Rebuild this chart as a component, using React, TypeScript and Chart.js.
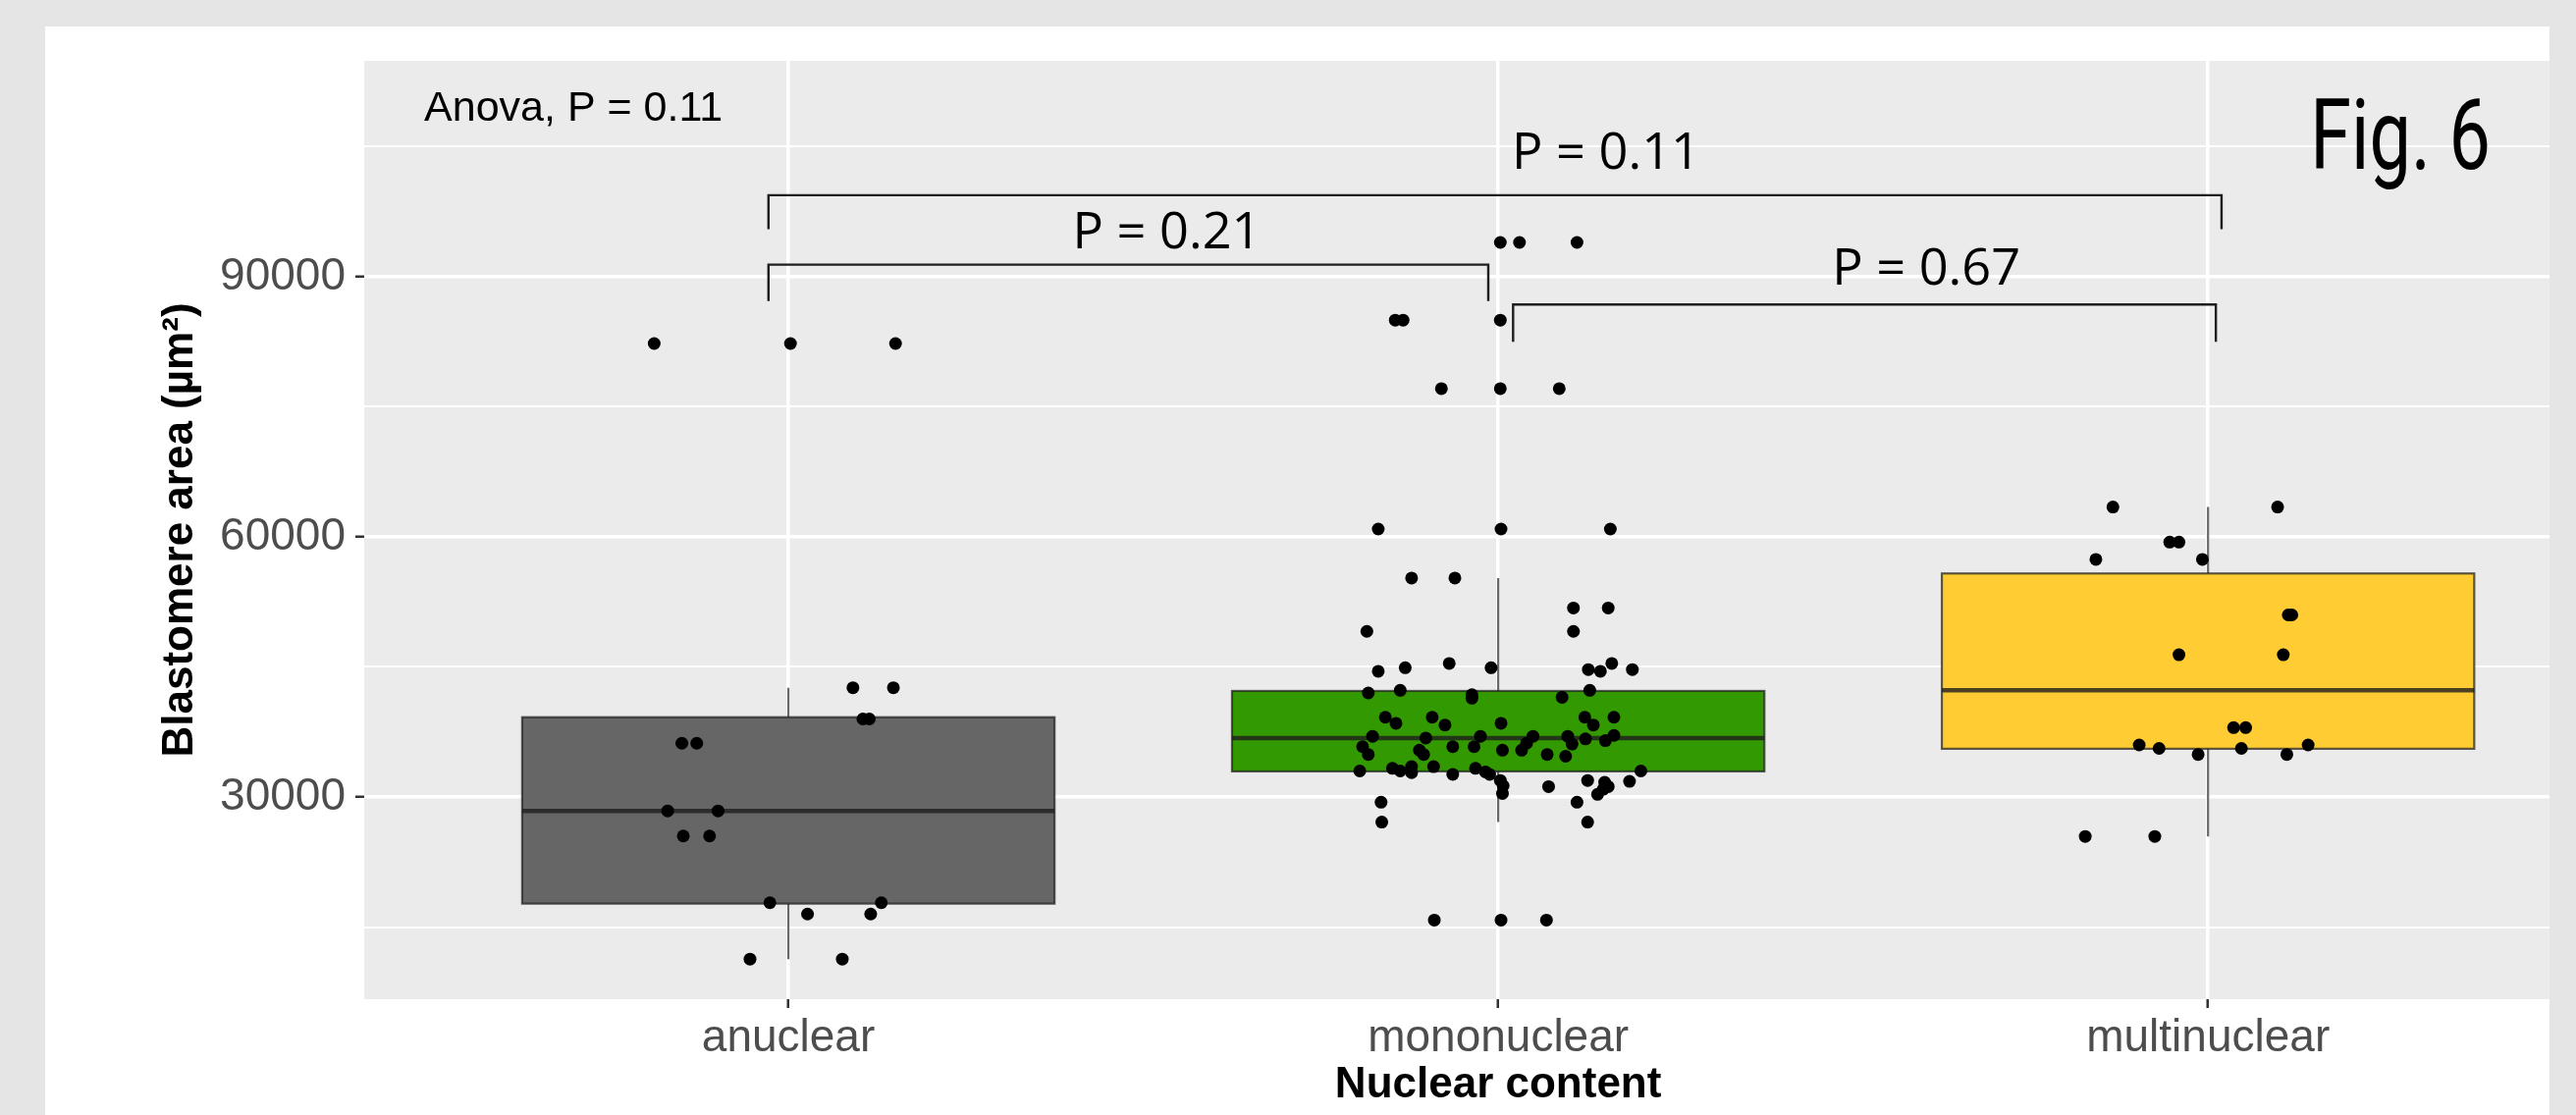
import React, { useEffect, useRef } from 'react';
import { Chart, registerables } from 'chart.js';

Chart.register(...registerables);

const W = 2624;
const H = 1136;

// ---------- data ----------
const categories = ['anuclear', 'mononuclear', 'multinuclear'];
const boxFills = ['#666666', '#339900', '#FFCC33'];

const whiskerLow = [11300, 27100, 25450];
const quartile1 = [17700, 32950, 35560];
const medians = [28400, 36800, 42300];
const quartile3 = [39200, 42230, 55780];
const whiskerHigh = [42600, 55250, 63440];

const anuclearValues = [82300, 82300, 82300, 42600, 42600, 39000, 39000, 36200, 36200, 28400, 28400, 25500, 25500, 17800, 17800, 16500, 16500, 11300, 11300];
const anuclearJitter = [-0.189, 0.003, 0.151, 0.091, 0.148, 0.105, 0.114, -0.15, -0.129, -0.17, -0.099, -0.148, -0.111, -0.026, 0.131, 0.027, 0.116, -0.054, 0.076];

const mononuclearValues = [
  93960, 93960, 93960, 85000, 85000, 85000, 77100, 77100, 77100, 60900,
  60900, 60900, 55250, 55250, 51800, 51800, 49100, 49100, 45400, 45400,
  44900, 44900, 44700, 44500, 44700, 44500, 42000, 42300, 41800, 42300,
  41500, 41400, 39200, 39200, 39200, 39200, 38500, 38500, 38300, 38300,
  37000, 36800, 37000, 37000, 37000, 36700, 37100, 36500, 36200, 36100,
  35800, 35800, 35800, 35400, 35400, 35400, 34900, 34900, 34900, 34700,
  33300, 33000, 33500, 33500, 33300, 32900, 33000, 32800, 32600, 32600,
  33000, 31900, 31900, 31700, 31800, 31200, 31300, 31200, 30900, 30400,
  30300, 29400, 29400, 27100, 27100, 15800, 15800, 15800,
];
const mononuclearJitter = [
  0.003, 0.03, 0.111, -0.145, -0.134, 0.003, -0.08, 0.003, 0.086, -0.169,
  0.004, 0.158, -0.122, -0.061, 0.106, 0.155, -0.185, 0.106, -0.069, 0.16,
  -0.131, -0.01, 0.127, 0.144, 0.189, -0.169, -0.183, -0.138, -0.037, 0.129,
  0.09, -0.037, -0.159, -0.093, 0.122, 0.163, -0.144, 0.004, -0.075, 0.134,
  -0.177, -0.102, -0.025, 0.049, 0.098, 0.123, 0.163, 0.151, 0.04, 0.104,
  -0.191, -0.064, -0.034, 0.006, 0.033, -0.111, -0.183, -0.105, 0.069, 0.095,
  -0.149, -0.138, -0.122, -0.091, -0.032, -0.018, -0.195, -0.122, -0.064, -0.012,
  0.201, 0.003, 0.126, 0.15, 0.185, 0.071, 0.007, 0.155, 0.148, 0.006,
  0.14, -0.165, 0.111, -0.164, 0.126, -0.09, 0.004, 0.068,
];

const multinuclearValues = [63440, 63440, 59400, 59400, 57400, 57400, 51000, 51000, 46400, 46400, 38000, 38000, 36000, 35600, 34900, 35600, 34900, 36000, 25450, 25450];
const multinuclearJitter = [-0.134, 0.098, -0.054, -0.041, -0.158, -0.008, 0.113, 0.118, -0.041, 0.106, 0.036, 0.053, -0.097, -0.069, -0.014, 0.047, 0.111, 0.141, -0.173, -0.075];

const groupValues = [anuclearValues, mononuclearValues, multinuclearValues];
const groupJitter = [anuclearJitter, mononuclearJitter, multinuclearJitter];

const yGridValues = [15000, 30000, 45000, 60000, 75000, 90000, 105000];
const yLabelValues = [30000, 60000, 90000];
const yMin = 6680;
const yMax = 114900;
const xMin = -0.5975;
const xMax = 2.481;

const bracketLabels = ['P = 0.21', 'P = 0.11', 'P = 0.67'];
const bracketStart = [-0.028, -0.028, 1.021];
const bracketEnd = [0.986, 2.019, 2.011];
const bracketTop = [91400, 99400, 86800];
const bracketTip = [87200, 95500, 82500];
const pLabelX = [0.533, 1.152, 1.603];
const pLabelBaseline = [93280, 102450, 89100];

const anovaLabel = 'Anova, P = 0.11';
const anovaX = -0.513;
const anovaBaseline = 108000;
const figLabel = 'Fig. 6';
const figX = 2.271;
const figBaseline = 102450;

const xTitle = 'Nuclear content';
const yTitle = 'Blastomere area (\u00b5m\u00b2)';

const BOX_HALF = 0.375;
const SANS = '"Liberation Sans", Arial, Helvetica, sans-serif';

function fitText(ctx: CanvasRenderingContext2D, text: string, x: number, y: number, font: string, width: number) {
  ctx.save();
  ctx.font = font;
  const w = ctx.measureText(text).width;
  ctx.translate(x, y);
  ctx.scale(width / w, 1);
  ctx.textAlign = 'center';
  ctx.textBaseline = 'alphabetic';
  ctx.fillText(text, 0, 0);
  ctx.restore();
}

const backdropPlugin = {
  id: 'backdrop',
  beforeDraw(chart: any) {
    const { ctx, chartArea } = chart;
    ctx.save();
    ctx.fillStyle = '#E5E5E5';
    ctx.fillRect(0, 0, W, H);
    ctx.fillStyle = '#FFFFFF';
    ctx.fillRect(46, 27, 2551, H - 27);
    ctx.fillStyle = '#EBEBEB';
    ctx.fillRect(chartArea.left, chartArea.top, chartArea.right - chartArea.left, chartArea.bottom - chartArea.top);
    ctx.restore();
  },
};

const boxPlugin = {
  id: 'boxes',
  beforeDatasetsDraw(chart: any) {
    const { ctx } = chart;
    const xs = chart.scales.x;
    const ys = chart.scales.y;
    ctx.save();
    categories.forEach((_, i) => {
      const xc = xs.getPixelForValue(i);
      const xl = xs.getPixelForValue(i - BOX_HALF);
      const xr = xs.getPixelForValue(i + BOX_HALF);
      const yq1 = ys.getPixelForValue(quartile1[i]);
      const yq3 = ys.getPixelForValue(quartile3[i]);
      const ymed = ys.getPixelForValue(medians[i]);
      const ylo = ys.getPixelForValue(whiskerLow[i]);
      const yhi = ys.getPixelForValue(whiskerHigh[i]);
      ctx.strokeStyle = 'rgba(40,40,40,0.7)';
      ctx.lineWidth = 2.2;
      ctx.beginPath();
      ctx.moveTo(xc, yhi);
      ctx.lineTo(xc, yq3);
      ctx.moveTo(xc, yq1);
      ctx.lineTo(xc, ylo);
      ctx.stroke();
      ctx.fillStyle = boxFills[i];
      ctx.fillRect(xl, yq3, xr - xl, yq1 - yq3);
      ctx.strokeStyle = 'rgba(30,30,30,0.72)';
      ctx.lineWidth = 2.2;
      ctx.strokeRect(xl, yq3, xr - xl, yq1 - yq3);
      ctx.strokeStyle = 'rgba(30,30,30,0.8)';
      ctx.lineWidth = 4.5;
      ctx.beginPath();
      ctx.moveTo(xl, ymed);
      ctx.lineTo(xr, ymed);
      ctx.stroke();
    });
    ctx.restore();
  },
};

const annotationPlugin = {
  id: 'annotations',
  afterDatasetsDraw(chart: any) {
    const { ctx } = chart;
    const xs = chart.scales.x;
    const ys = chart.scales.y;
    ctx.save();
    // brackets
    ctx.strokeStyle = '#1E1E1E';
    ctx.lineWidth = 2.4;
    bracketLabels.forEach((label, i) => {
      const x1 = xs.getPixelForValue(bracketStart[i]);
      const x2 = xs.getPixelForValue(bracketEnd[i]);
      const yt = ys.getPixelForValue(bracketTop[i]);
      const yb = ys.getPixelForValue(bracketTip[i]);
      ctx.beginPath();
      ctx.moveTo(x1, yb);
      ctx.lineTo(x1, yt);
      ctx.lineTo(x2, yt);
      ctx.lineTo(x2, yb);
      ctx.stroke();
      ctx.fillStyle = '#000000';
      fitText(ctx, label, xs.getPixelForValue(pLabelX[i]), ys.getPixelForValue(pLabelBaseline[i]), '52px "Open Sans", "Noto Sans", sans-serif', 192);
    });
    // Anova label
    ctx.fillStyle = '#000000';
    ctx.font = '43px ' + SANS;
    ctx.textAlign = 'left';
    ctx.textBaseline = 'alphabetic';
    ctx.fillText(anovaLabel, xs.getPixelForValue(anovaX), ys.getPixelForValue(anovaBaseline));
    // Fig label
    fitText(ctx, figLabel, xs.getPixelForValue(figX), ys.getPixelForValue(figBaseline), '101px Roboto, "Noto Sans", sans-serif', 184);
    ctx.restore();

    // axis titles
    ctx.save();
    ctx.fillStyle = '#000000';
    ctx.font = 'bold 44px ' + SANS;
    ctx.textAlign = 'center';
    ctx.textBaseline = 'alphabetic';
    ctx.fillText(xTitle, xs.getPixelForValue(1), 1118);
    const midY = (chart.chartArea.top + chart.chartArea.bottom) / 2;
    ctx.translate(196, midY);
    ctx.rotate(-Math.PI / 2);
    ctx.fillText(yTitle, 0, 0);
    ctx.restore();
  },
};

export default function App() {
  const ref = useRef<HTMLCanvasElement>(null);
  useEffect(() => {
    const canvas = ref.current;
    if (!canvas) return;
    const datasets = categories.map((name, i) => ({
      label: name,
      data: groupValues[i].map((v, k) => ({ x: i + groupJitter[i][k], y: v })),
      pointRadius: 6.5,
      pointHoverRadius: 6.5,
      pointBackgroundColor: '#000000',
      pointBorderWidth: 0,
      showLine: false,
    }));
    const chart = new Chart(canvas, {
      type: 'scatter',
      data: { datasets },
      options: {
        responsive: false,
        maintainAspectRatio: false,
        devicePixelRatio: 1,
        animation: false,
        events: [],
        layout: { padding: { left: 0, top: 62, right: 27, bottom: 0 } },
        plugins: { legend: { display: false }, tooltip: { enabled: false } },
        scales: {
          x: {
            type: 'linear',
            min: xMin,
            max: xMax,
            afterBuildTicks: (s: any) => {
              s.ticks = categories.map((_, i) => ({ value: i }));
            },
            afterFit: (s: any) => {
              s.height = 118;
            },
            border: { display: false },
            grid: { color: '#FFFFFF', lineWidth: 3.5, tickColor: '#333333', tickLength: 9, tickWidth: 2.5 },
            ticks: {
              autoSkip: false,
              maxRotation: 0,
              padding: 4,
              color: '#4D4D4D',
              font: { family: SANS, size: 46 },
              callback: (v: any) => categories[Math.round(v)] ?? '',
            },
          },
          y: {
            type: 'linear',
            min: yMin,
            max: yMax,
            afterBuildTicks: (s: any) => {
              s.ticks = yGridValues.map((v) => ({ value: v }));
            },
            afterFit: (s: any) => {
              s.width = 371;
            },
            border: { display: false },
            grid: {
              color: '#FFFFFF',
              lineWidth: (c: any) => (c.tick && yLabelValues.includes(c.tick.value) ? 3.5 : 2),
              tickColor: (c: any) => (c.tick && yLabelValues.includes(c.tick.value) ? '#333333' : 'rgba(0,0,0,0)'),
              tickLength: 9,
              tickWidth: 2.5,
            },
            ticks: {
              autoSkip: false,
              padding: 10,
              color: '#4D4D4D',
              font: { family: SANS, size: 46 },
              callback: (v: any) => (yLabelValues.includes(v) ? String(v) : ''),
            },
          },
        },
      },
      plugins: [backdropPlugin, boxPlugin, annotationPlugin],
    } as any);
    return () => chart.destroy();
  }, []);
  return (
    <div style={{ position: 'absolute', left: 0, top: 0, width: W, height: H }}>
      <canvas ref={ref} width={W} height={H} style={{ display: 'block', width: W, height: H }} />
    </div>
  );
}
